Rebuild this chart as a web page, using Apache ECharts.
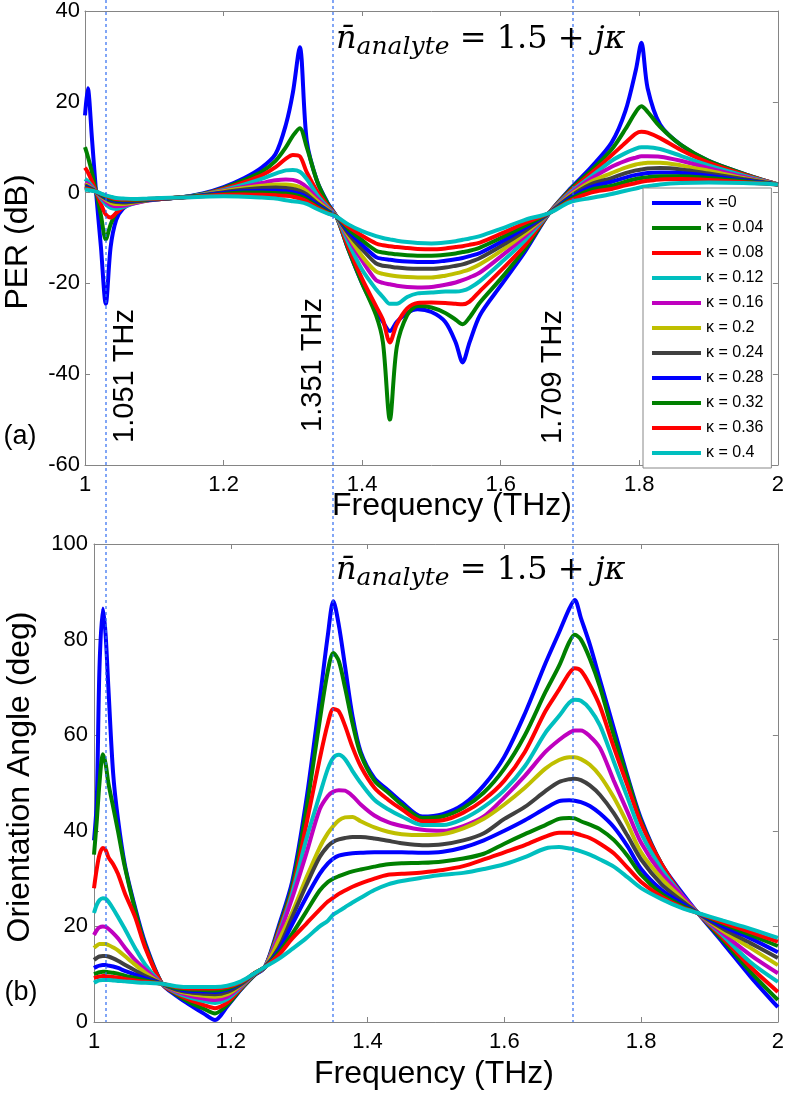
<!DOCTYPE html>
<html><head><meta charset="utf-8">
<script src="https://cdn.jsdelivr.net/npm/echarts@6/dist/echarts.min.js"></script>
<style>html,body{margin:0;padding:0;background:#fff}#c{width:787px;height:1095px}</style>
</head><body><div id="c"></div>
<script>
// ---------- legend / series labels ----------
const kappaLabels = ['κ =0','κ = 0.04','κ = 0.08','κ = 0.12','κ = 0.16','κ = 0.2','κ = 0.24','κ = 0.28','κ = 0.32','κ = 0.36','κ = 0.4'];
const lineColors = ['#0000FF','#008000','#FF0000','#00BFBF','#BF00BF','#BFBF00','#404040','#0000FF','#008000','#FF0000','#00BFBF'];

// ---------- panel (a): PER (dB) ----------
const freqTop = [1.0,1.004,1.01,1.016,1.023,1.03,1.037,1.045,1.055,1.07,1.09,1.11,1.137,
  1.17,1.2,1.23,1.255,1.275,1.29,1.3,1.31,1.32,1.335,1.35,1.363,
  1.38,1.40,1.42,1.43,1.44,1.45,1.465,1.48,1.50,1.52,1.535,1.545,1.555,1.57,1.60,1.635,1.67,
  1.70,1.73,1.76,1.78,1.795,1.803,1.812,1.83,1.86,1.9,1.95,2.0];
const per0 = [17,23,12,0,-12,-24.5,-12,-6,-3.5,-2.2,-1.6,-1.3,-1.1,
  -0.2,1.2,3.2,5.5,8.5,15,22,32,11.5,2.5,-2.2,-5.3,
  -12.5,-20,-26,-28.5,-30.5,-28.5,-26.5,-25.7,-26.3,-28.5,-33,-37.4,-33,-27,-20.5,-13,-4.5,
  0.8,5.5,11,18,27,33,23,15,10.5,7,4.2,1.8];
const per1 = [10,8,4.5,0.2,-5,-10.3,-7,-4.5,-3,-2,-1.5,-1.3,-1.1,
  -0.3,1.0,2.8,4.6,7,10,12.5,14.2,10,2.5,-2.4,-5.3,
  -12.5,-20,-27,-33,-50,-34,-27,-25,-25.3,-26.5,-28,-29,-27.5,-24.2,-19,-12.4,-4.5,
  0.6,4.8,9.5,14,17.8,19,17.8,14.5,10.5,7,4.2,1.8];
const per2 = [5.5,4.5,2.5,0.2,-2.5,-4.8,-5.5,-4.5,-3.3,-2.2,-1.6,-1.3,-1.1,
  -0.4,0.8,2.3,3.8,5.6,7.5,8.3,8,4.5,0.3,-2.8,-5.3,
  -12,-19,-25,-28,-33,-29,-25.5,-24.3,-24.2,-24.3,-24.5,-24.6,-24,-21.7,-17.2,-11.6,-4.5,
  0.3,4.2,8.2,11,13,13.4,13.2,12,9.4,6.6,4,1.8];
const per3 = [3,2.5,1.4,0.2,-1.3,-2.6,-3.4,-3.6,-3.2,-2.4,-1.7,-1.3,-1.1,
  -0.4,0.6,1.8,3,4.2,4.9,5,4.6,3,-0.5,-3.2,-5.3,
  -11,-17,-21.3,-23,-24.5,-24.5,-23,-22.2,-22,-21.8,-21.8,-21.6,-21,-19.5,-15.5,-10.5,-4.5,
  0,3.5,7.0,8.7,9.7,10,10,9.6,8.1,6.0,3.8,1.8];
const per4 = [2.2,1.9,1.1,0.2,-1,-2,-2.7,-3,-2.9,-2.4,-1.8,-1.4,-1.1,
  -0.5,0.4,1.3,2.1,2.7,2.9,2.8,2.3,1.2,-1.3,-3.5,-5.3,
  -10,-15,-19.3,-19.9,-20.2,-20.5,-20.8,-20.9,-20.8,-20.3,-19.8,-19.3,-18.7,-17.6,-14.1,-9.6,-4.5,
  -0.3,3.0,5.7,7.0,7.7,8.0,8.0,7.9,7.0,5.4,3.5,1.8];
const per5 = [1.8,1.5,0.9,0.2,-0.8,-1.6,-2.2,-2.5,-2.5,-2.2,-1.7,-1.4,-1.1,
  -0.5,0.3,1.0,1.5,1.8,1.8,1.6,1.2,0.3,-1.8,-3.7,-5.3,
  -9.5,-14,-17.4,-17.9,-18.2,-18.4,-18.6,-18.7,-18.7,-18.3,-17.8,-17.4,-16.9,-15.8,-12.9,-9.0,-4.5,
  -0.6,2.4,4.3,5.5,6.2,6.4,6.6,6.6,6.0,4.8,3.2,1.8];
const per6 = [1.5,1.3,0.8,0.2,-0.6,-1.3,-1.8,-2.1,-2.2,-2.0,-1.7,-1.4,-1.1,
  -0.6,0.1,0.7,1.0,1.1,1.0,0.8,0.4,-0.4,-2.3,-3.9,-5.3,
  -9,-12.5,-15.6,-16.1,-16.3,-16.5,-16.7,-16.8,-16.8,-16.5,-16.1,-15.8,-15.3,-14.4,-11.8,-8.4,-4.5,
  -0.9,1.8,3.2,4.3,4.9,5.1,5.3,5.4,5.1,4.2,3.0,1.8];
const per7 = [1.3,1.1,0.7,0.2,-0.5,-1.1,-1.5,-1.8,-1.9,-1.8,-1.6,-1.4,-1.1,
  -0.6,-0.1,0.3,0.4,0.4,0.3,0.1,-0.3,-1.0,-2.6,-4.1,-5.3,
  -8.5,-11.5,-14.2,-14.6,-14.8,-15.0,-15.2,-15.3,-15.3,-15.0,-14.7,-14.4,-14.0,-13.3,-10.9,-7.8,-4.5,
  -1.2,1.2,2.4,3.3,3.9,4.1,4.3,4.4,4.3,3.7,2.7,1.8];
const per8 = [1.1,0.9,0.6,0.2,-0.4,-0.9,-1.3,-1.6,-1.7,-1.7,-1.5,-1.3,-1.1,
  -0.7,-0.3,0,0,-0.1,-0.2,-0.4,-0.8,-1.5,-3,-4.3,-5.3,
  -8,-10.5,-12.8,-13.2,-13.4,-13.6,-13.8,-13.9,-13.9,-13.7,-13.4,-13.1,-12.8,-12.1,-10.0,-7.3,-4.5,
  -1.5,0.6,1.5,2.4,3.0,3.2,3.4,3.6,3.6,3.2,2.5,1.8];
const per9 = [0.9,0.8,0.5,0.2,-0.3,-0.7,-1.1,-1.4,-1.5,-1.5,-1.4,-1.3,-1.1,
  -0.8,-0.5,-0.4,-0.5,-0.6,-0.7,-0.9,-1.3,-1.9,-3.3,-4.5,-5.3,
  -7.5,-9.5,-11.2,-11.6,-11.8,-12.0,-12.2,-12.4,-12.5,-12.3,-12.0,-11.8,-11.5,-11.0,-9.1,-6.7,-4.5,
  -1.8,0,0.8,1.6,2.1,2.4,2.6,2.9,3.0,2.8,2.3,1.8];
const per10 = [0.7,0.6,0.4,0.2,-0.2,-0.6,-0.9,-1.2,-1.3,-1.4,-1.3,-1.2,-1.1,
  -0.9,-0.8,-0.9,-1.1,-1.3,-1.7,-1.9,-2.1,-2.5,-3.6,-4.6,-5.3,
  -7,-8.5,-9.6,-10.0,-10.3,-10.6,-10.9,-11.1,-11.2,-11.0,-10.7,-10.4,-10.1,-9.6,-8.0,-6.0,-4.5,
  -2.1,-1.2,-0.3,0.4,0.9,1.2,1.4,1.8,2.1,2.2,2.1,1.8];

// ---------- panel (b): Orientation angle (deg) ----------
const freqBottom = [1.0,1.004,1.008,1.013,1.017,1.021,1.028,1.035,1.045,1.06,1.075,1.0995,
  1.12,1.14,1.16,1.177,1.195,1.215,1.235,1.25,
  1.27,1.29,1.31,1.33,1.342,1.35,1.358,1.367,1.378,1.39,1.41,1.43,1.45,1.48,1.51,1.54,1.57,1.60,1.63,1.66,
  1.68,1.695,1.703,1.712,1.725,1.74,1.76,1.78,1.80,1.83,1.86,1.883,1.92,1.96,2.0];
const ang0 = [38,46,74,86.5,81,70,52,42.5,33,24,16.5,8,
  5.5,3.6,1.8,0.4,3.3,6.8,9.8,11.5,
  20,29.5,46,67.4,81,88,83,74.5,64,56.5,51,48.5,46,43,43.5,45.5,49.5,55.5,64.5,75,
  81.5,86.5,88.3,84.5,79,71.5,61.5,51.5,42.5,33,27,22.8,16.5,9.5,3.1];
const ang1 = [35,42,50,56,54,50,45,40,32.5,23.5,16,8,
  5.8,4.1,2.8,1.8,3.6,6.9,9.9,11.5,
  19.5,28.5,44,63,73.5,77.2,75.5,70,62.5,56,50.5,48,45.5,42.7,43,44.8,48,53,60,69,
  74.5,79.5,81,80,76,70,60,51,42,33,26.5,22.8,17,10.5,4.6];
const ang2 = [28,32,35,36.4,36,34.5,33,31,27,22,15.5,8,
  6.0,4.6,3.6,2.9,4.1,7.1,10.0,11.5,
  19,27.5,41,55,62.5,65.5,65,62,57.5,53.5,49,46.5,44.5,42,42.2,43.8,46.5,50.5,56.5,65,
  69.5,73,74,73.5,70.5,66,57.5,49.5,41.5,33,26.5,22.8,17.5,11.5,6.3];
const ang3 = [22.8,24.5,25.5,25.9,25.8,25.2,23.7,22,19.5,15.5,12,8,
  6.2,5.1,4.4,4.0,4.8,7.3,10.1,11.5,
  18.5,27,38,47.5,53,55.3,55.9,55,52.5,50,46.5,44.5,43,41.2,41.2,42.5,45,48.5,53.5,60.5,
  64,66.8,67.4,67.2,65.5,62,54.5,47,39.5,32,26.5,22.8,18,12.5,8.4];
const ang4 = [18.2,19.2,19.8,20,19.9,19.5,18.6,17.5,15.6,13,11,8,
  6.4,5.5,4.9,4.6,5.3,7.5,10.2,11.5,
  18,26,35,44.5,47.3,48.2,48.5,48.4,47.3,45.5,43.2,41.8,41,40.2,40,41,43,47,51.5,56.5,
  59,60.5,61,61,59.8,57.3,50.5,44,37.5,31,26.5,22.8,18.5,14,10.2];
const ang5 = [15.5,16,16.3,16.3,16.3,16.1,15.6,15,13.8,12,10.3,8,
  6.6,5.9,5.5,5.3,5.8,7.7,10.3,11.5,
  17,23,30,36.5,39.5,41,42.2,42.8,42.9,42,40.7,39.8,39.3,39.1,39.3,40.5,42.5,45.5,49,53,
  54.8,55.4,55.4,55,53.8,51.5,47,41.5,35.5,30,25.8,22.8,19,15.5,11.9];
const ang6 = [13,13.4,13.7,13.8,13.8,13.7,13.3,12.8,12,10.8,9.6,8,
  6.8,6.2,5.9,5.8,6.3,7.9,10.2,11.5,
  15.5,22,28.5,34.5,36.8,37.7,38.2,38.5,38.7,38.7,38.4,37.9,37.4,37,37.2,38,39.5,42.5,45,48.3,
  50.2,50.8,50.9,50.6,49.5,47.5,43.7,39,34,28.8,25.3,22.8,19.5,16.5,13.4];
const ang7 = [11.3,11.6,11.8,11.9,11.9,11.8,11.6,11.3,10.7,9.9,9.1,8,
  7.0,6.5,6.4,6.3,6.8,8.1,10.2,11.5,
  15,20.5,26,31,33.2,34.2,34.8,35.1,35.3,35.4,35.5,35.5,35.5,35.4,35.6,36.5,38,40,42.2,44.7,
  46.2,46.4,46.3,46,45.2,43.6,40.8,36.8,32,27.6,24.8,22.8,20,17.5,14.6];
const ang8 = [10,10.2,10.4,10.5,10.5,10.4,10.3,10.1,9.7,9.2,8.7,8,
  7.1,6.8,6.7,6.6,7.0,8.2,10.2,11.5,
  14.5,18.5,23,27.5,29.3,30,30.5,31,31.5,31.9,32.5,33,33.2,33.3,33.6,34.2,35.2,37.3,39.3,41.2,
  42.5,42.7,42.6,42,41.3,40.3,38.1,34.8,30.8,26.8,24.3,22.8,20.5,18.2,15.9];
const ang9 = [9.2,9.4,9.5,9.6,9.6,9.5,9.4,9.3,9.0,8.7,8.4,8,
  7.3,7.0,7.0,7.0,7.3,8.3,10.2,11.5,
  14,17.5,20.5,23.5,25.2,26,26.8,27.5,28.3,29,30,30.8,31,31.3,31.8,32.6,34,35.5,37,38.8,
  39.6,39.6,39.5,39.1,38.5,37.3,35.3,32.3,29.3,26.2,24,22.8,20.8,18.8,16.8];
const ang10 = [8.2,8.5,8.7,8.8,8.8,8.8,8.7,8.6,8.5,8.3,8.2,8,
  7.5,7.3,7.3,7.3,7.6,8.5,10.2,11.5,
  13.2,15.3,17.5,20,21.2,22.5,23.2,24,25,26,27.6,28.8,29.5,30.2,30.8,31.2,32,33,34.5,36.3,
  36.6,36.3,36.1,35.7,35,34,32.5,30.3,28,25.7,23.8,22.8,21.2,19.5,17.6];

// ---------- marker lines & annotations ----------
const markerFreq = [1.0175, 1.349, 1.70];
const markerLabels = ['1.051 THz', '1.351 THz', '1.709 THz'];

const perSeries = [per0,per1,per2,per3,per4,per5,per6,per7,per8,per9,per10];
const angSeries = [ang0,ang1,ang2,ang3,ang4,ang5,ang6,ang7,ang8,ang9,ang10];

const FONT = 'Liberation Sans';
const AX = '#858585';

function xAxes(grid) {
  const common = {gridIndex: grid, type: 'value', min: 1, max: 2, interval: 0.2,
    splitLine: {show: false},
    axisLine: {show: true, onZero: false, lineStyle: {color: AX, width: 1}},
    axisTick: {show: true, inside: true, length: 5, lineStyle: {color: AX}}};
  return [
    Object.assign({}, common, {position: 'bottom',
      axisLabel: {show: true, margin: 9, color: '#000', fontFamily: FONT, fontSize: 22,
        formatter: v => String(+(+v).toFixed(1))}}),
    Object.assign({}, common, {position: 'top', axisLabel: {show: false}})
  ];
}
function yAxes(grid, min, max, margin) {
  const common = {gridIndex: grid, type: 'value', min: min, max: max, interval: 20,
    splitLine: {show: false},
    axisLine: {show: true, onZero: false, lineStyle: {color: AX, width: 1}},
    axisTick: {show: true, inside: true, length: 5, lineStyle: {color: AX}}};
  return [
    Object.assign({}, common, {position: 'left',
      axisLabel: {show: true, margin: margin, color: '#000', fontFamily: FONT, fontSize: 22}}),
    Object.assign({}, common, {position: 'right', axisLabel: {show: false}})
  ];
}

const series = [];
perSeries.forEach((vals, i) => series.push({
  type: 'line', name: kappaLabels[i], xAxisIndex: 0, yAxisIndex: 0,
  data: freqTop.map((f, j) => [f, vals[j]]), symbol: 'none', smooth: 0.3,
  lineStyle: {width: 4, color: lineColors[i]}, itemStyle: {color: lineColors[i]}, animation: false
}));
angSeries.forEach((vals, i) => series.push({
  type: 'line', name: kappaLabels[i], xAxisIndex: 2, yAxisIndex: 2,
  data: freqBottom.map((f, j) => [f, vals[j]]), symbol: 'none', smooth: 0.3,
  lineStyle: {width: 4, color: lineColors[i]}, itemStyle: {color: lineColors[i]}, animation: false
}));

const chart = echarts.init(document.getElementById('c'), null, {renderer: 'canvas'});
const richAnno = {
  n: {fontFamily: 'DejaVu Serif', fontStyle: 'italic', fontSize: 32, lineHeight: 40, verticalAlign: 'middle', fill: '#000'},
  s: {fontFamily: 'DejaVu Serif', fontStyle: 'italic', fontSize: 25, lineHeight: 22, verticalAlign: 'bottom', fill: '#000'},
  e: {fontFamily: 'DejaVu Serif', fontSize: 32, lineHeight: 40, verticalAlign: 'middle', fill: '#000'}
};
const annoText = '{n|n\u0304}{s|analyte}{e| = 1.5 + }{n|jκ}';

function textEl(x, y, txt, size, rot) {
  return {type: 'text', x: x, y: y, rotation: rot || 0, z: 60,
    style: {text: txt, fontFamily: FONT, fontSize: size, fill: '#000', align: 'center', verticalAlign: 'middle'}};
}

chart.setOption({
  animation: false,
  backgroundColor: '#fff',
  grid: [
    {left: 85, right: 8, top: 11, height: 454, containLabel: false},
    {left: 94, right: 9, top: 544, height: 478, containLabel: false}
  ],
  xAxis: xAxes(0).concat(xAxes(1)),
  yAxis: yAxes(0, -60, 40, 5).concat(yAxes(1, 0, 100, 6)),
  legend: {
    data: kappaLabels, orient: 'vertical', left: 643, top: 188,
    padding: [6, 8, 6, 9], itemWidth: 49, itemHeight: 4, itemGap: 7, icon: 'rect',
    backgroundColor: '#fff', borderColor: '#888', borderWidth: 1,
    textStyle: {fontFamily: FONT, fontSize: 16, color: '#000', lineHeight: 18}
  },
  series: series
});

const gfx = [];
markerFreq.forEach(f => {
  const px = Math.round(chart.convertToPixel({xAxisIndex: 2}, f));
  gfx.push({type: 'line', z: 55, silent: true,
    shape: {x1: px, y1: 0, x2: px, y2: 1022},
    style: {stroke: '#2f6bf0', lineWidth: 1.2, lineDash: [3, 3]}});
});
gfx.push(textEl(125, 376, markerLabels[0], 29, Math.PI / 2));
gfx.push(textEl(313, 365, markerLabels[1], 29, Math.PI / 2));
gfx.push(textEl(553, 377, markerLabels[2], 29, Math.PI / 2));
gfx.push(textEl(18, 242, 'PER (dB)', 32, Math.PI / 2));
gfx.push(textEl(20, 777, 'Orientation Angle (deg)', 32, Math.PI / 2));
gfx.push(textEl(452, 506, 'Frequency (THz)', 32));
gfx.push(textEl(434, 1074, 'Frequency (THz)', 32));
gfx.push(textEl(20, 437, '(a)', 27));
gfx.push(textEl(21, 993, '(b)', 27));
gfx.push({type: 'text', x: 336, y: 20, z: 60, style: {text: annoText, rich: richAnno, align: 'left', verticalAlign: 'top'}});
gfx.push({type: 'text', x: 336, y: 551, z: 60, style: {text: annoText, rich: richAnno, align: 'left', verticalAlign: 'top'}});
chart.setOption({graphic: gfx});
</script>
</body></html>
